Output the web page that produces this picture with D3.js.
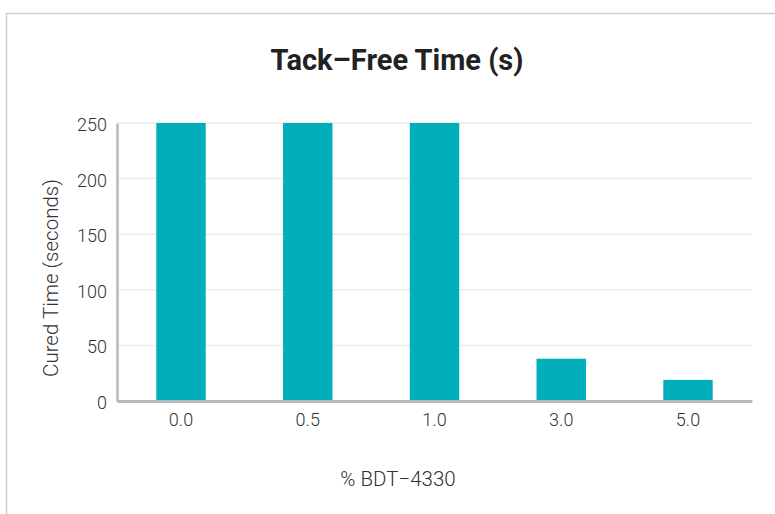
<!DOCTYPE html>
<html><head><meta charset="utf-8">
<script src="https://cdn.jsdelivr.net/npm/d3@7"></script>
<style>body{margin:0;background:#fff}svg{display:block}</style>
</head><body><svg id="c" width="775" height="514"></svg>
<script>
const categories = ["0.0","0.5","1.0","3.0","5.0"];
const values = [250, 250, 250, 38, 19];
const yTicks = [0, 50, 100, 150, 200, 250];
const title = "Tack\u2013Free Time (s)";
const xTitle = "% BDT\u22124330";
const yTitle = "Cured Time (seconds)";

const svg = d3.select("#c");
const m = {left:117, right:752, top:123, bottom:401};
// frame
svg.append("path").attr("d","M6.5,514 V13.5 H775").attr("fill","none").attr("stroke","#c9cdcf").attr("stroke-width",1.5);

const x = d3.scaleBand().domain(categories).range([m.left, m.right]).paddingInner(0.61).paddingOuter(0.31);
const y = d3.scaleLinear().domain([0,250]).range([m.bottom, m.top]);

const font = "Roboto, 'Liberation Sans Narrow', sans-serif";
// grid
svg.append("g").selectAll("line").data(yTicks.filter(d=>d>0)).join("line")
  .attr("x1", m.left).attr("x2", m.right).attr("y1", d=>y(d)).attr("y2", d=>y(d))
  .attr("stroke","#ebebeb").attr("stroke-width",1.5);

// bars
svg.append("g").selectAll("rect").data(values).join("rect")
  .attr("x",(d,i)=>x(categories[i])).attr("width",x.bandwidth())
  .attr("y",d=>y(d)).attr("height",d=>y(0)-y(d)).attr("fill","#00afb9");

// y axis
const ya = svg.append("g").attr("transform",`translate(${m.left},0)`)
  .call(d3.axisLeft(y).tickValues(yTicks).tickSize(0).tickPadding(10));
ya.select(".domain").attr("stroke","#b3bbc1").attr("stroke-width",2.5);
ya.selectAll("text").attr("font-family",font).attr("font-weight",300).attr("font-size",18).attr("fill","#333").attr("dy","0.42em");

// x axis
const xa = svg.append("g").attr("transform",`translate(0,${m.bottom})`)
  .call(d3.axisBottom(x).tickSize(0).tickPadding(12));
xa.select(".domain").attr("stroke","#b3bbc1").attr("stroke-width",3);
xa.selectAll("text").attr("font-family",font).attr("font-weight",300).attr("font-size",18).attr("fill","#333");

// titles
svg.append("text").attr("x",397).attr("y",70).attr("text-anchor","middle")
  .attr("font-family",font).attr("font-weight",700).attr("font-size",29).attr("fill","#222").text(title);
svg.append("text").attr("x",398).attr("y",486).attr("text-anchor","middle")
  .attr("font-family",font).attr("font-weight",300).attr("font-size",20.5).attr("fill","#333").text(xTitle);
svg.append("text").attr("transform","translate(58,278) rotate(-90)").attr("text-anchor","middle")
  .attr("font-family",font).attr("font-weight",300).attr("font-size",20.5).attr("fill","#333").text(yTitle);
</script></body></html>
